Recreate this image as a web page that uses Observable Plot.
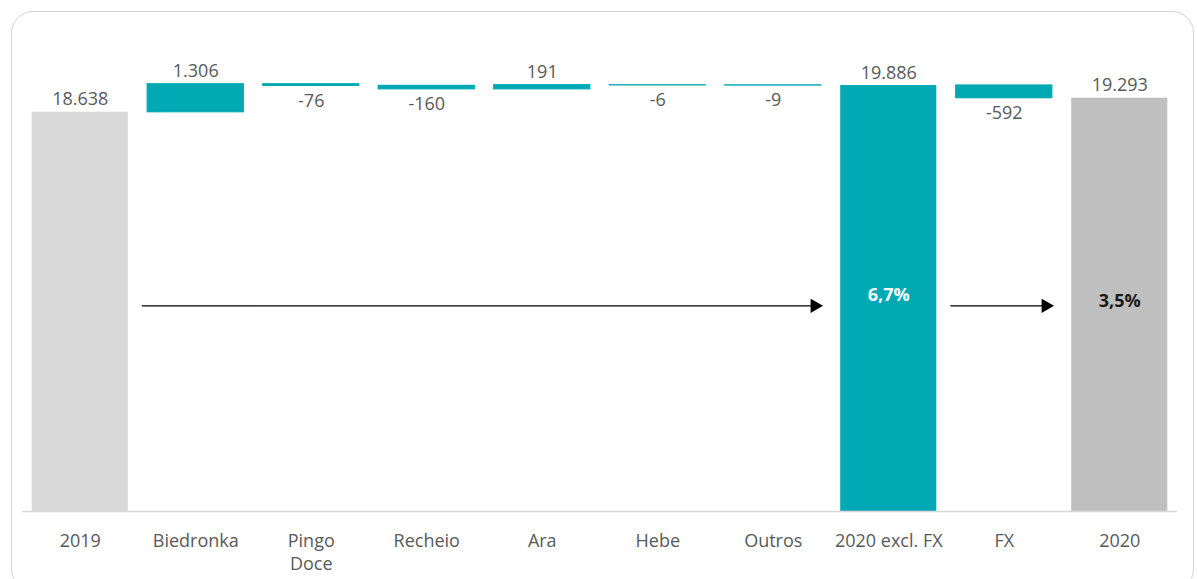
<!DOCTYPE html>
<html>
<head>
<meta charset="utf-8">
<script src="https://cdn.jsdelivr.net/npm/d3@7"></script>
<script src="https://cdn.jsdelivr.net/npm/@observablehq/plot@0.6"></script>
<style>
  html, body { margin: 0; padding: 0; background: #fff; overflow: hidden; }
  #wrap { position: relative; width: 1197px; height: 579px; }
  #frame { position: absolute; left: 11px; top: 11px; width: 1183px; height: 580px;
           border: 1.5px solid #d4d4d4; border-radius: 22px; box-sizing: border-box; }
  #chart { position: absolute; left: 0; top: 0; }
</style>
</head>
<body>
<div id="wrap"><div id="frame"></div><div id="chart"></div></div>
<script>
// ---- data ----
const categories = ["2019", "Biedronka", "Pingo Doce", "Recheio", "Ara", "Hebe", "Outros", "2020 excl. FX", "FX", "2020"];
const values = [18638, 1306, -76, -160, 191, -6, -9, 19886, -592, 19293];
const kinds = ["start", "change", "change", "change", "change", "change", "change", "subtotal", "change", "end"];
const valueLabels = ["18.638", "1.306", "-76", "-160", "191", "-6", "-9", "19.886", "-592", "19.293"];
const tickLabels = ["2019", "Biedronka", "Pingo\nDoce", "Recheio", "Ara", "Hebe", "Outros", "2020 excl. FX", "FX", "2020"];
const arrowFrom = ["2019", "2020 excl. FX"];
const arrowTo = ["2020 excl. FX", "2020"];
const arrowLevel = 9600;
const growthCats = ["2020 excl. FX", "2020"];
const growthLabels = ["6,7%", "3,5%"];
const growthLevels = [10100, 9800];

// ---- build rows ----
let running = 0;
const rows = categories.map((c, i) => {
  let y1, y2;
  if (kinds[i] === "change") { y1 = running; y2 = running + values[i]; running = y2; }
  else { y1 = 0; y2 = values[i]; running = values[i]; }
  return { cat: c, kind: kinds[i], value: values[i], label: valueLabels[i], y1, y2, top: Math.max(y1, y2), bottom: Math.min(y1, y2) };
});
const arrows = arrowFrom.map((f, i) => ({ from: f, to: arrowTo[i], y: arrowLevel }));
const growth = growthCats.map((c, i) => ({ cat: c, label: growthLabels[i], y: growthLevels[i] }));
const tickMap = new Map(categories.map((c, i) => [c, tickLabels[i]]));

const teal = "#00a9b4";
const pos = rows.filter(d => d.kind !== "change" || d.value >= 0);
const neg = rows.filter(d => d.kind === "change" && d.value < 0);

const chart = Plot.plot({
  width: 1197,
  height: 579,
  marginLeft: 22,
  marginRight: 20,
  marginTop: 85,
  marginBottom: 68,
  style: { fontFamily: "'Open Sans', sans-serif", fontSize: "18px", color: "#595959", background: "transparent", overflow: "visible" },
  x: { domain: categories, paddingInner: 0.168, paddingOuter: 0.084, round: false, label: null },
  y: { domain: [0, d3.max(values)], axis: null },
  color: { domain: ["start", "change", "subtotal", "end"], range: ["#d9d9d9", teal, teal, "#bfbfbf"] },
  marks: [
    Plot.barY(rows.filter(d => d.kind !== "change"), { x: "cat", y1: "y1", y2: "y2", fill: "kind" }),
    Plot.barY(rows.filter(d => d.kind === "change"), { x: "cat", y1: "y1", y2: "y2", fill: "kind", stroke: "kind", strokeWidth: 1.2 }),
    Plot.ruleY([0], { stroke: "#d9d9d9", strokeWidth: 1.5 }),
    Plot.text(pos, { x: "cat", y: "top", text: "label", lineAnchor: "bottom", dy: -7, fill: "#595959" }),
    Plot.text(neg, { x: "cat", y: "bottom", text: "label", lineAnchor: "top", dy: 8, fill: "#595959" }),
    Plot.arrow(arrows, { x1: "from", x2: "to", y1: "y", y2: "y", insetStart: 62, insetEnd: 72, headLength: 0, stroke: "#000", strokeWidth: 1.3 }),
    Plot.dot(arrows, { x: "to", y: "y", symbol: "triangle", rotate: 90, r: 5.3, dx: -74, fill: "#000", stroke: "none" }),
    Plot.text(growth, { x: "cat", y: "y", text: "label", fontWeight: "bold", fill: (d) => d.cat === "2020" ? "#1a1a1a" : "#ffffff" }),
    Plot.axisX({ tickSize: 0, tickPadding: 18, tickFormat: c => tickMap.get(c), lineHeight: 1.33, fill: "#595959" })
  ]
});
document.getElementById("chart").appendChild(chart);
</script>
</body>
</html>
